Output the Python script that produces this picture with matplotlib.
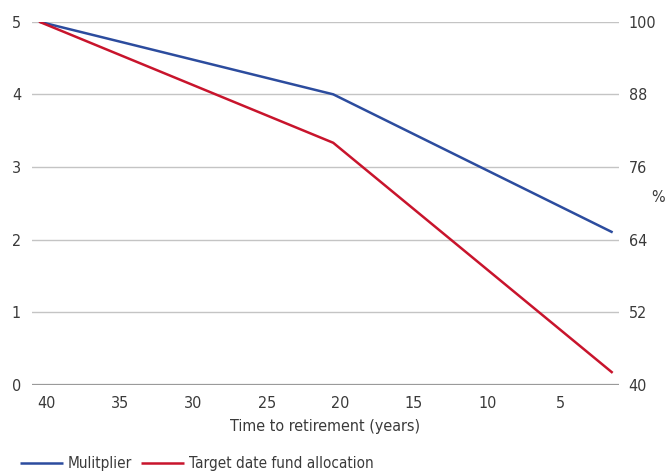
import matplotlib
matplotlib.use('Agg')
import matplotlib.pyplot as plt
import matplotlib.transforms as mtransforms

plt.rcParams['font.family'] = ['DejaVu Sans']
plt.rcParams['font.stretch'] = 'condensed'

# years before retirement
years = [40, 20, 1]
multiplier = [5, 4, 2.1]
allocation = [100, 80, 42]  # % in target date fund

x_ticks = [40, 35, 30, 25, 20, 15, 10, 5]
left_ticks = [0, 1, 2, 3, 4, 5]
right_ticks = [40, 52, 64, 76, 88, 100]

blue = '#2c4c9e'
red = '#c8142c'
text_col = '#3a3a3a'

fig = plt.figure(figsize=(6.67, 4.71), dpi=100)
ax = fig.add_axes([0.048, 0.1826, 0.88, 0.7714])
ax2 = ax.twinx()

l1, = ax.plot(years, multiplier, color=blue, lw=1.8, solid_capstyle='butt',
              label='Mulitplier', zorder=3)
l2, = ax2.plot(years, allocation, color=red, lw=1.8, solid_capstyle='butt',
               label='Target date fund allocation', zorder=3)

ax.set_xlim(40.48, 0.57)
ax.set_ylim(0, 5)
ax2.set_ylim(40, 100)
ax.set_xticks(x_ticks)
ax.set_yticks(left_ticks)
ax2.set_yticks(right_ticks)

for a in (ax, ax2):
    for s in a.spines.values():
        s.set_visible(False)
    a.tick_params(length=0, labelsize=11.5, colors=text_col)
ax.tick_params(axis='y', pad=8)
ax2.tick_params(axis='y', pad=7)
ax.tick_params(axis='x', pad=8)

ax.grid(axis='y', color='#c4c4c4', lw=1.0)
ax.grid(axis='x', visible=False)
ax.axhline(0, color='#9a9a9a', lw=1.6, zorder=2)
ax.set_axisbelow(True)

# nudge x labels right a little
shift = mtransforms.ScaledTranslation(7 / 100, 0, fig.dpi_scale_trans)
for lab in ax.get_xticklabels():
    lab.set_transform(lab.get_transform() + shift)

ax.set_xlabel('Time to retirement (years)', fontsize=11.5, color=text_col,
              labelpad=6)
ax2.set_ylabel('%', fontsize=11.5, color=text_col, rotation=0,
               ha='center', va='center')
ax2.yaxis.set_label_coords(1.066, 0.517)

fig.legend(handles=[l1, l2], loc='lower left', bbox_to_anchor=(0.01, -0.03),
           ncol=2, frameon=False, fontsize=11, handlelength=2.8,
           handletextpad=0.3, columnspacing=0.6, labelcolor=text_col)

fig.savefig('out.png', dpi=100)
